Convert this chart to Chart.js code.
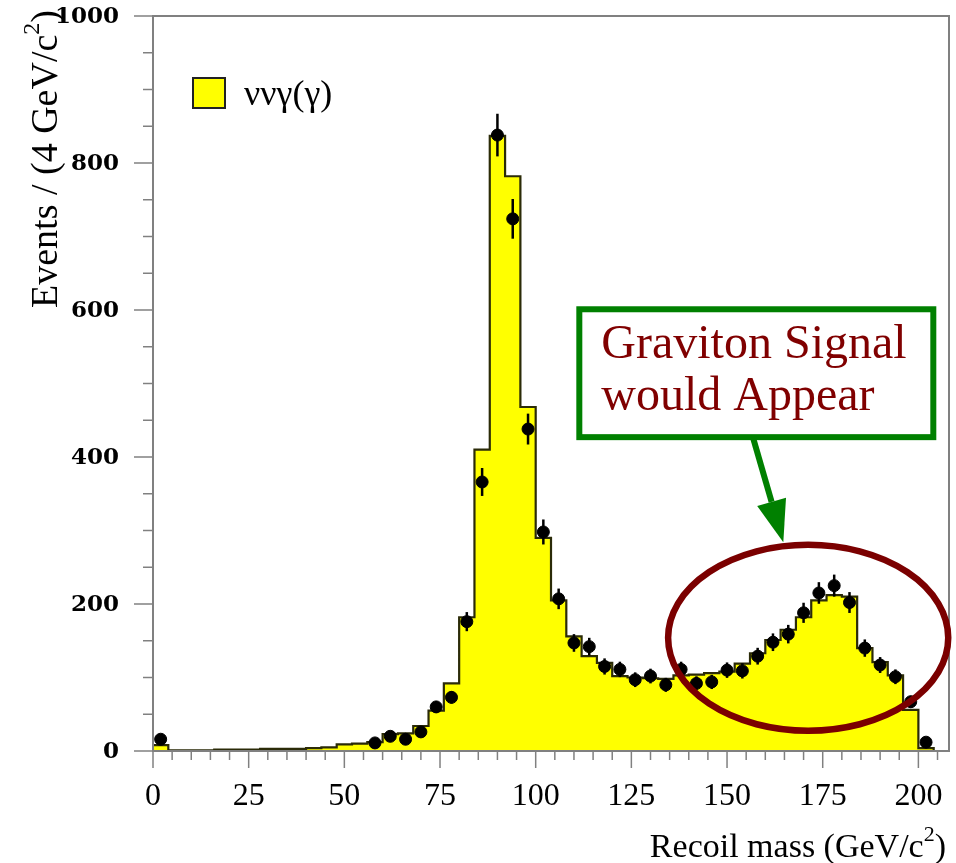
<!DOCTYPE html>
<html>
<head>
<meta charset="utf-8">
<script src="https://cdn.jsdelivr.net/npm/chart.js@4.4.1/dist/chart.umd.min.js"></script>
<style>
  body { margin: 0; background: #fff; }
  #wrap { width: 956px; height: 863px; }
</style>
</head>
<body>
<div id="wrap"><canvas id="recoilChart" width="956" height="863"></canvas></div>
<script>
// bins of 4 GeV/c^2, low edge of each bin
const binStart = [0, 4, 8, 12, 16, 20, 24, 28, 32, 36, 40, 44, 48, 52, 56, 60, 64, 68, 72, 76,
    80, 84, 88, 92, 96, 100, 104, 108, 112, 116, 120, 124, 128, 132, 136, 140, 144, 148, 152, 156,
    160, 164, 168, 172, 176, 180, 184, 188, 192, 196, 200, 204];
const binWidth = 4;

// Monte Carlo nu nu gamma(gamma) expectation
const mcEvents = [8, 1, 1, 1, 2, 2, 2, 3, 3, 3, 4, 5, 9, 10, 12, 23, 24, 34, 55, 92,
    182, 410, 837, 782, 468, 290, 205, 156, 129, 120, 102, 100, 99, 98, 103, 104, 106, 108, 119, 133,
    151, 165, 182, 205, 212, 210, 140, 121, 103, 56, 4, 0];

// data points and their errors
const dataEvents = [16, null, null, null, null, null, null, null, null, null, null, null, null, null, 11, 20, 16, 26, 60, 73,
    176, 366, 838, 724, 438, 298, 207, 147, 142, 115, 111, 97, 102, 90, 111, 92, 94, 110, 109, 129,
    148, 159, 188, 215, 225, 202, 140, 117, 101, 67, 12, null];
const dataErrors = [4, 0, 0, 0, 0, 0, 0, 0, 0, 0, 0, 0, 0, 0, 3, 4.5, 4, 5, 8, 8.5,
    13, 19, 29, 27, 21, 17, 14, 12, 12, 11, 10.5, 10, 10, 9.5, 10.5, 9.6, 9.7, 10.5, 10.4, 11.4,
    12, 12.6, 13.7, 14.7, 15, 14.2, 11.8, 10.8, 10, 8.2, 3.5, 0];

const xTicks = [0, 25, 50, 75, 100, 125, 150, 175, 200];
const yTicks = [0, 200, 400, 600, 800, 1000];

const legendText = 'ννγ(γ)';
const noteLines = ['Graviton Signal', 'would Appear'];

// histogram outline, stepped at the bin edges
const histPoints = binStart.map((x, i) => ({ x: x, y: mcEvents[i] }));
histPoints.push({ x: binStart[binStart.length - 1] + binWidth, y: mcEvents[mcEvents.length - 1] });

const dataPoints = [];
binStart.forEach((x, i) => {
    if (dataEvents[i] !== null) dataPoints.push({ x: x + binWidth / 2, y: dataEvents[i], err: dataErrors[i] });
});

const axisGray = '#808080';

const overlay = {
    id: 'overlay',
    afterDatasetsDraw(chart) {
        const ctx = chart.ctx;
        const xs = chart.scales.x, ys = chart.scales.y;
        ctx.save();
        ctx.strokeStyle = '#000';
        ctx.lineWidth = 2.5;
        dataPoints.forEach(p => {
            if (!p.err) return;
            const px = xs.getPixelForValue(p.x);
            ctx.beginPath();
            ctx.moveTo(px, ys.getPixelForValue(p.y - p.err));
            ctx.lineTo(px, ys.getPixelForValue(p.y + p.err));
            ctx.stroke();
        });
        ctx.restore();
    },
    afterDraw(chart) {
        const ctx = chart.ctx;
        const xs = chart.scales.x, ys = chart.scales.y;
        const a = chart.chartArea;
        ctx.save();

        // frame
        ctx.strokeStyle = axisGray;
        ctx.lineWidth = 2;
        ctx.strokeRect(a.left, a.top, a.right - a.left, a.bottom - a.top);

        // x ticks (major every 25, minor every 5)
        ctx.lineWidth = 1.5;
        for (let v = 0; v <= xs.max; v += 5) {
            const px = xs.getPixelForValue(v);
            const len = v % 25 === 0 ? 17 : 9;
            ctx.beginPath();
            ctx.moveTo(px, a.bottom);
            ctx.lineTo(px, a.bottom + len);
            ctx.stroke();
        }
        // y ticks (major every 200, minor every 50)
        for (let v = 0; v <= ys.max; v += 50) {
            const py = ys.getPixelForValue(v);
            const len = v % 200 === 0 ? 19 : 10;
            ctx.beginPath();
            ctx.moveTo(a.left, py);
            ctx.lineTo(a.left - len, py);
            ctx.stroke();
        }

        // tick labels
        ctx.fillStyle = '#000';
        ctx.font = '32px "Liberation Serif"';
        ctx.textAlign = 'center';
        ctx.textBaseline = 'alphabetic';
        xTicks.forEach(v => {
            ctx.fillText(String(v), xs.getPixelForValue(v), a.bottom + 54);
        });
        ctx.font = 'bold 23px "DejaVu Serif"';
        ctx.textAlign = 'right';
        ctx.textBaseline = 'middle';
        yTicks.forEach(v => {
            ctx.fillText(String(v), a.left - 34, ys.getPixelForValue(v) + 1);
        });

        // axis titles
        ctx.font = '34px "Liberation Serif"';
        ctx.textBaseline = 'alphabetic';
        ctx.textAlign = 'right';
        const xEnd = a.right - 3;
        const xBase = a.bottom + 106;
        let wParen = ctx.measureText(')').width;
        ctx.fillText(')', xEnd, xBase);
        ctx.font = '22px "Liberation Serif"';
        let wSup = ctx.measureText('2').width;
        ctx.fillText('2', xEnd - wParen, xBase - 16);
        ctx.font = '34px "Liberation Serif"';
        ctx.fillText('Recoil mass (GeV/c', xEnd - wParen - wSup, xBase);

        ctx.save();
        ctx.translate(57, a.top - 6);
        ctx.rotate(-Math.PI / 2);
        ctx.textAlign = 'right';
        ctx.font = '38px "Liberation Serif"';
        wParen = ctx.measureText(')').width;
        ctx.fillText(')', 0, 0);
        ctx.font = '24px "Liberation Serif"';
        wSup = ctx.measureText('2').width;
        ctx.fillText('2', -wParen, -18);
        ctx.font = '38px "Liberation Serif"';
        ctx.fillText('Events / (4 GeV/c', -wParen - wSup, 0);
        ctx.restore();

        // legend
        const lx = a.left + 40, ly = a.top + 62;
        ctx.fillStyle = '#ffff00';
        ctx.fillRect(lx, ly, 32, 30);
        ctx.strokeStyle = '#222';
        ctx.lineWidth = 2;
        ctx.strokeRect(lx, ly, 32, 30);
        ctx.fillStyle = '#000';
        ctx.font = '36px "Liberation Serif"';
        ctx.textAlign = 'left';
        ctx.fillText(legendText, lx + 51, ly + 27);

        // ellipse round the high-mass region
        const ex = xs.getPixelForValue(171.2), ey = ys.getPixelForValue(154);
        const erx = xs.getPixelForValue(171.2 + 36.6) - ex;
        const ery = ey - ys.getPixelForValue(154 + 126.5);
        ctx.strokeStyle = '#7b0000';
        ctx.lineWidth = 6.5;
        ctx.beginPath();
        ctx.ellipse(ex, ey, erx, ery, 0, 0, Math.PI * 2);
        ctx.stroke();

        // text box
        const bx0 = xs.getPixelForValue(111.4), bx1 = xs.getPixelForValue(203.9);
        const by0 = ys.getPixelForValue(601), by1 = ys.getPixelForValue(427);
        ctx.fillStyle = '#fff';
        ctx.fillRect(bx0, by0, bx1 - bx0, by1 - by0);
        ctx.strokeStyle = '#008000';
        ctx.lineWidth = 6;
        ctx.strokeRect(bx0, by0, bx1 - bx0, by1 - by0);
        ctx.fillStyle = '#800000';
        ctx.font = '48px "Liberation Serif"';
        ctx.textAlign = 'left';
        ctx.fillText(noteLines[0], bx0 + 22, ys.getPixelForValue(535));
        ctx.fillText(noteLines[1], bx0 + 22, ys.getPixelForValue(464));

        // arrow from box to ellipse
        const ax0 = xs.getPixelForValue(156.9), ay0 = by1 + 2;
        const ax1 = xs.getPixelForValue(164.7), ay1 = ys.getPixelForValue(284);
        const ang = Math.atan2(ay1 - ay0, ax1 - ax0);
        const headLen = 42, headHalf = 15;
        const hx = ax1 - headLen * Math.cos(ang), hy = ay1 - headLen * Math.sin(ang);
        ctx.strokeStyle = '#008000';
        ctx.fillStyle = '#008000';
        ctx.lineWidth = 6;
        ctx.beginPath();
        ctx.moveTo(ax0, ay0);
        ctx.lineTo(hx, hy);
        ctx.stroke();
        ctx.beginPath();
        ctx.moveTo(ax1, ay1);
        ctx.lineTo(hx + headHalf * Math.sin(ang), hy - headHalf * Math.cos(ang));
        ctx.lineTo(hx - headHalf * Math.sin(ang), hy + headHalf * Math.cos(ang));
        ctx.closePath();
        ctx.fill();

        ctx.restore();
    }
};

const ctx = document.getElementById('recoilChart').getContext('2d');
const chart = new Chart(ctx, {
    type: 'line',
    data: {
        datasets: [
            {
                label: legendText,
                data: histPoints,
                stepped: 'before',
                fill: 'origin',
                backgroundColor: '#ffff00',
                borderColor: '#2b2b08',
                borderWidth: 2.2,
                pointRadius: 0,
                order: 2
            },
            {
                label: 'data',
                type: 'scatter',
                data: dataPoints,
                showLine: false,
                pointRadius: 6,
                pointBackgroundColor: '#000',
                pointBorderColor: '#000',
                order: 1
            }
        ]
    },
    options: {
        responsive: false,
        animation: false,
        layout: { padding: { left: 153, right: 7, top: 16, bottom: 112 } },
        plugins: {
            legend: { display: false },
            tooltip: { enabled: false }
        },
        scales: {
            x: { type: 'linear', min: 0, max: 208, display: false },
            y: { type: 'linear', min: 0, max: 1000, display: false }
        }
    },
    plugins: [overlay]
});
</script>
</body>
</html>
